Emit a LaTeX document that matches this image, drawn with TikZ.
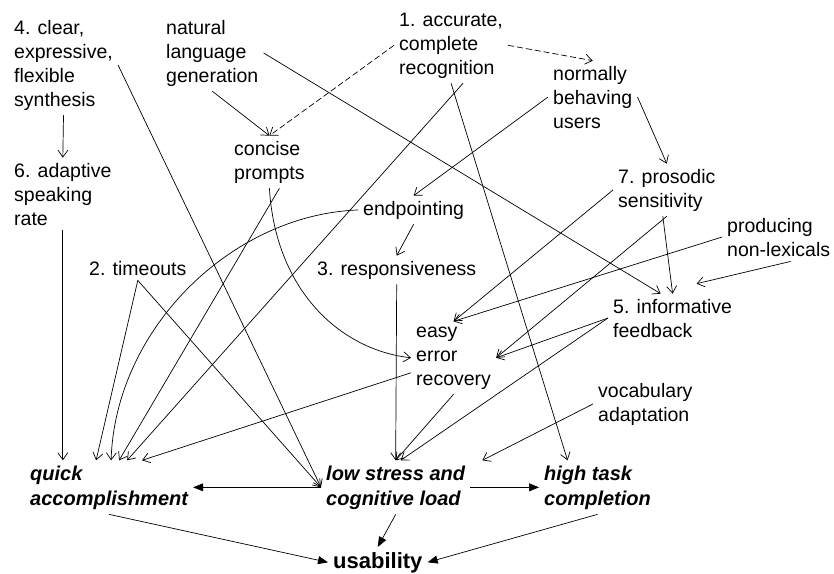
\documentclass[tikz,border=0pt]{standalone}
\usepackage{fontspec}
\setmainfont{Liberation Sans}
\usetikzlibrary{calc,arrows.meta}

\begin{document}
\begin{tikzpicture}[x=1pt,y=-1pt,
	lbl/.style={anchor=base west,align=left,inner sep=5pt,font=\fontsize{19.5}{24}\selectfont},
	goal/.style={lbl,font=\fontsize{20}{25}\selectfont\bfseries\itshape},
	link/.style={line width=0.7pt,-{Straight Barb[length=7pt,width=10pt]}},
	weak/.style={link,dash pattern=on 6pt off 3pt},
	lead/.style={line width=0.7pt,-{Triangle[length=10pt,width=8pt]}}]
	\useasboundingbox (0,0) rectangle (834,573);
	
	%properties (placed at the baseline of their last line)
	\node[lbl] (clear) at (9,106) {4. clear,\\expressive,\\flexible\\synthesis};
	\node[lbl] (natural) at (161,82) {natural\\language\\generation};
	\node[lbl] (accurate) at (394,74) {1. accurate,\\complete\\recognition};
	\node[lbl] (normally) at (548,128) {normally\\behaving\\users};
	\node[lbl] (concise) at (229,179) {concise\\prompts};
	\node[lbl] (adaptive) at (9,225) {6. adaptive\\speaking\\rate};
	\node[lbl] (prosodic) at (613,207) {7. prosodic\\sensitivity};
	\node[lbl] (endpoint) at (358,215) {endpointing};
	\node[lbl] (timeouts) at (84,275) {2. timeouts};
	\node[lbl] (respons) at (312,275) {3. responsiveness};
	\node[lbl] (nonlex) at (722,256) {producing\\non-lexicals};
	\node[lbl] (informative) at (608,337) {5. informative\\feedback};
	\node[lbl] (recovery) at (411,385) {easy\\error\\recovery};
	\node[lbl] (vocab) at (593,421) {vocabulary\\adaptation};
	
	%goals
	\node[goal] (quick) at (25,505) {quick\\accomplishment};
	\node[goal] (lowstress) at (321,505) {low stress and\\cognitive load};
	\node[goal] (hightask) at (539,505) {high task\\completion};
	\node[lbl,font=\fontsize{22}{26}\selectfont\bfseries] (usability) at (328,568) {usability};
	
	%dashed
	\draw[weak] (accurate.west) -- (concise.north);
	\draw[weak] (accurate.east) -- (normally.north);
	
	%influences
	\draw[link] (clear.south) -- (adaptive.north);
	\draw[link] (clear.east) -- (lowstress.west);
	\draw[link] (natural.south) -- (concise.north);
	\draw[link] (natural.east) -- ([xshift=-12pt]informative.north);
	\draw[link] (accurate.south) -- ([xshift=-30pt]hightask.north);
	\draw[link] ([xshift=12pt]accurate.south) -- ([xshift=18pt]quick.north);
	\draw[link] (normally.west) -- (endpoint.north);
	\draw[link] (normally.east) -- (prosodic.north);
	\draw[link] ([xshift=10pt]concise.south) -- ([xshift=10pt]quick.north);
	\draw[link] (concise.south) .. controls +(6,102) and +(-71,-8) .. (recovery.west);
	\draw[link] (endpoint.west) .. controls +(-128,5) and +(4,-130) .. ([xshift=2pt]quick.north);
	\draw[link] (endpoint.south) -- (respons.north);
	\draw[link] (timeouts.south) -- ([xshift=-13pt]quick.north);
	\draw[link] (timeouts.south) -- (lowstress.west);
	\draw[link] (adaptive.south) -- (adaptive.south |- quick.north);
	\draw[link] (respons.south) -- (lowstress.north);
	\draw[link] (prosodic.west) -- (recovery.north);
	\draw[link] (prosodic.south) -- (recovery.east);
	\draw[link] ([xshift=-4pt]prosodic.south) -- (informative.north);
	\draw[link] (nonlex.west) -- (recovery.north);
	\draw[link] ([xshift=12pt]nonlex.south) -- ([xshift=24pt,yshift=10pt]informative.north);
	\draw[link] (informative.west) -- (recovery.east);
	\draw[link] (informative.west) -- ([xshift=5pt]lowstress.north);
	\draw[link] ([yshift=-15pt]recovery.west) -- ([xshift=33pt]quick.north);
	\draw[link] (recovery.south) -- (lowstress.north);
	\draw[link] (vocab.west) -- ([xshift=12pt]lowstress.north east);
	
	%goals to usability
	\draw[lead] (lowstress.west) -- (quick.east);
	\draw[lead] (lowstress.east) -- (hightask.west);
	\draw[lead] (quick.south) -- (usability.west);
	\draw[lead] (lowstress.south) -- (usability.north);
	\draw[lead] (hightask.south) -- (usability.east);
\end{tikzpicture}
\end{document}
